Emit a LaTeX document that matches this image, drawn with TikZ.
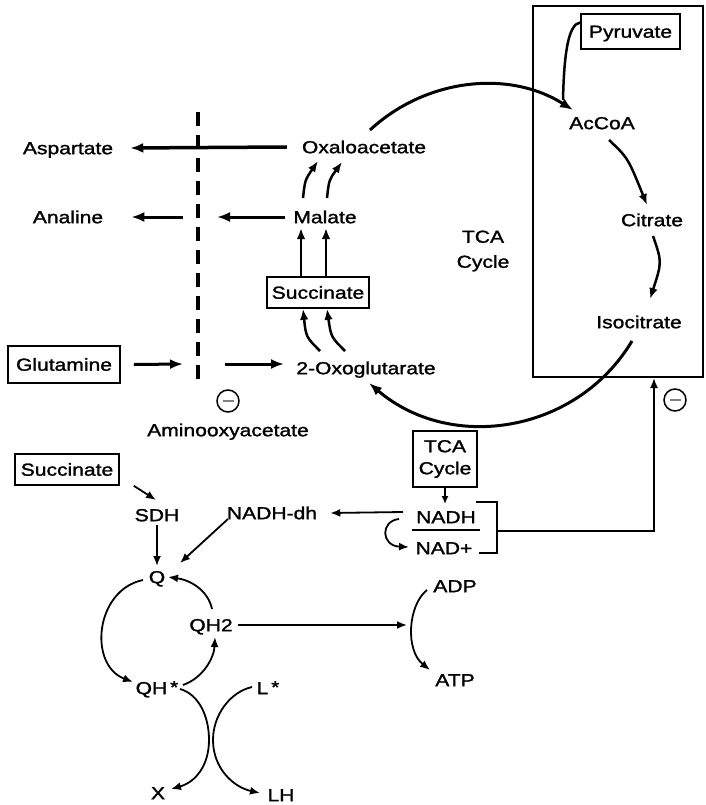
\documentclass[tikz,border=0pt]{standalone}
\usepackage{fontspec}
\setmainfont[FakeStretch=1.21,FakeBold=1.5]{Liberation Sans}
\usetikzlibrary{arrows.meta}
\begin{document}
\begin{tikzpicture}[x=1pt,y=-1pt,
  txt/.style={font=\fontsize{17.4}{20}\selectfont, inner sep=0pt},
  lbl/.style={txt, text height=12.4pt, text depth=0pt},
  bx/.style={lbl, draw, line width=1.6pt},
  ar/.style={line width=3pt, -{Latex[length=13pt,width=10pt]}},
  ar2/.style={line width=2.5pt, -{Latex[length=11pt,width=8.5pt]}},
  thinar/.style={line width=1.8pt, -{Latex[length=10pt,width=8pt]}},
  thin/.style={line width=1.8pt},
  inh/.style={circle, draw, line width=1.5pt, minimum size=22pt, inner sep=0pt}
]
\useasboundingbox (0,0) rectangle (706,805);

% ---------- upper part ----------
\node[lbl] (asp) at (68,148) {Aspartate};
\node[lbl] (ana) at (68,217) {Analine};
\node[bx, minimum width=112pt, minimum height=37pt] (glu) at (64,364.5) {Glutamine};
\node[lbl] (oxa) at (364,147) {Oxaloacetate};
\node[lbl] (mal) at (325,217) {Malate};
\node[bx, minimum width=102pt, minimum height=31pt] (suc1) at (318,292.5) {Succinate};
\node[lbl] (oxo) at (366,368) {2-Oxoglutarate};
\node[txt, align=center, font=\fontsize{17.4}{25}\selectfont] (tca) at (483,251) {TCA\\Cycle};

\node[draw, line width=1.6pt, minimum width=170pt, minimum height=371pt, inner sep=0pt] (mito) at (618,191.5) {};
\node[bx, minimum width=99pt, minimum height=35pt] (pyr) at (630.5,31.5) {Pyruvate};
\node[lbl] (acoa) at (602,123) {AcCoA};
\node[lbl] (cit) at (652,220) {Citrate};
\node[lbl] (iso) at (639,322) {Isocitrate};

\node[inh] (inhA) at (228,401) {};
\draw[line width=1.5pt, gray] ([xshift=-5.5pt]inhA.center) -- ([xshift=5.5pt]inhA.center);
\node[lbl] (aoa) at (228,430) {Aminooxyacetate};
\node[inh] (inhB) at (675,400) {};
\draw[line width=1.5pt, gray] ([xshift=-5.5pt]inhB.center) -- ([xshift=5.5pt]inhB.center);

% dashed barrier
\coordinate (dtop) at (198,112);
\coordinate (dbot) at (198,383);
\draw[line width=3.4pt, dash pattern=on 14pt off 9pt] (dtop) -- (dbot);

% connectors upper
\draw[line width=3.5pt, -{Latex[length=13pt,width=10pt]}] ([xshift=-15pt]oxa.west) -- ([xshift=17pt]asp.east);
\coordinate (dA) at (183,217);
\coordinate (dB) at (217,217);
\draw[ar] (dA) -- ([xshift=28pt]ana.east);
\draw[ar] ([xshift=-8pt]mal.west) -- (dB);
\coordinate (dC) at (183,364);
\coordinate (dD) at (225,364);
\coordinate (oxoW) at (284,364);
\draw[ar] ([xshift=13pt]glu.east) -- (dC);
\draw[ar] (dD) -- (oxoW);

\draw[ar2] (303,198) .. controls (305,180) .. (318,161);
\draw[ar2] (327,198) .. controls (329,180) .. (342,162);
\draw[ar2] ([xshift=-17pt]suc1.north) -- (301,228);
\draw[ar2] ([xshift=8pt]suc1.north) -- (326,228);
\draw[ar2] (320,351) .. controls (306,337) .. ([xshift=-15pt]suc1.south);
\draw[ar2] (345,351) .. controls (331,337) .. ([xshift=9pt]suc1.south);

% TCA arcs
\coordinate (arcA) at (370,130);
\coordinate (arcB) at (573,110);
\draw[ar] (arcA) .. controls (425,79) and (508,69) .. (arcB);
\coordinate (arcC) at (632,341);
\coordinate (arcD) at (369,383);
\draw[ar] (arcC) .. controls (577,433) and (451,453) .. (arcD);
\draw[line width=2.5pt] ([yshift=9pt]pyr.west) .. controls (568,24) and (564,55) .. (563,100);
\draw[ar2] (609,140) .. controls (628,158) .. (647,205);
\draw[ar2] (653,236) .. controls (662,262) .. (650,299);

% ---------- lower part ----------
\node[bx, minimum width=104pt, minimum height=31pt] (suc2) at (67,469.5) {Succinate};
\node[lbl] (sdh) at (157,515) {SDH};
\node[lbl] (ndh) at (272,513) {NADH-dh};
\node[draw, line width=1.6pt, minimum width=64pt, minimum height=56pt, inner sep=0pt, align=center, font=\fontsize{17.4}{22}\selectfont] (tca2) at (445,459) {TCA\\Cycle};
\node[lbl] (nadh) at (446,517) {NADH};
\node[lbl] (nadp) at (444,548) {NAD+};
\node[lbl] (q) at (157,577) {Q};
\node[lbl] (qh2) at (211,625) {QH2};
\node[lbl] (qhs) at (157,688) {QH\,\raisebox{1pt}{*}};
\node[lbl] (ls) at (268,688) {L\,\raisebox{1pt}{*}};
\node[lbl] (xx) at (158,793) {X};
\node[lbl] (lh) at (281,795) {LH};
\node[lbl] (adp) at (455,586) {ADP};
\node[lbl] (atp) at (455,680) {ATP};

\draw[thin] (412,530) -- (480,530);
\draw[thin] (476,502) -| (497,553) -- (479,553);
\coordinate (brk) at (497,531);
\coordinate (brk2) at (654,531);
\draw[thinar] (brk) -- (brk2) -- (654,378);

\draw[line width=1.8pt, -{Latex[length=8pt,width=7pt]}] (tca2.south) -- (445,504);
\draw[thinar] (403,512) -- ([xshift=13pt]ndh.east);
\draw[thinar] (399,519) .. controls (380,521) and (381,546) .. (409,547);
\draw[thinar] ([xshift=14pt]suc2.south east) -- (156,500);
\draw[thinar] ([yshift=-4pt]sdh.south) -- (157,566);
\draw[thinar] (228,519) -- (180,563);
\draw[thinar] (212,609) .. controls (208,590) and (190,580) .. (168,577);
\draw[thinar] (143,580) .. controls (95,590) and (88,665) .. (133,682);
\draw[thinar] (183,685) .. controls (203,678) and (214,658) .. (215,637);
\draw[thinar] (180,689) .. controls (198,694) and (209,715) .. (209,740) .. controls (209,765) and (196,782) .. (171,789);
\draw[thinar] (252,687) .. controls (230,692) and (213,715) .. (213,740) .. controls (213,768) and (233,787) .. (260,793);
\draw[thinar] (238,625) -- (407,625);
\draw[thinar] (427,590) .. controls (408,605) and (405,650) .. (430,670);
\end{tikzpicture}
\end{document}
